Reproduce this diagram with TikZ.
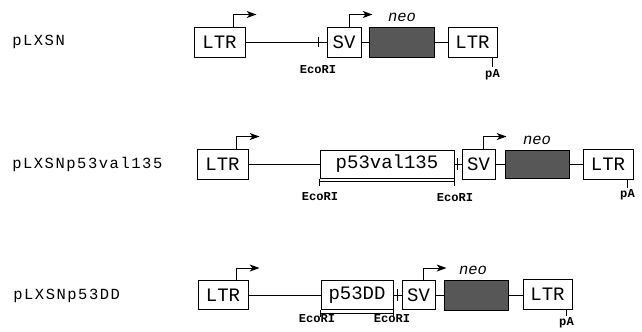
\documentclass[tikz,border=0pt]{standalone}
\usepackage{fontspec}
\usetikzlibrary{positioning, arrows.meta}
\newfontfamily\plotfont{Liberation Mono}
\def\pxu{0.025cm}
\tikzset{
  seg/.style={draw, line width=0.7pt, inner sep=0pt, minimum height=30*\pxu,
    font=\plotfont\fontsize{13.5}{14}\selectfont},
  neobox/.style={seg, fill=black!66},
  link/.style={line width=0.7pt},
  promoter/.style={line width=0.7pt, -{Stealth[length=7pt, width=5pt, inset=2pt]}},
  construct/.style={anchor=west, inner sep=0pt,
    font=\plotfont\fontsize{11}{12}\selectfont\addfontfeature{LetterSpace=10}},
  genelbl/.style={font=\plotfont\itshape\fontsize{11}{12}\selectfont},
  sitelbl/.style={inner sep=1pt, font=\plotfont\bfseries\fontsize{8.6}{9}\selectfont}
}
\newcommand{\prom}[1]{\draw[promoter] ([xshift=-12*\pxu]#1.north east) -- ++(0,-12) -- ++(23,0);}

\begin{document}
\begin{tikzpicture}[x=0.025cm, y=-0.025cm]
  \useasboundingbox (0,0) rectangle (642,331);

  % pLXSN
  \node[construct] (nmA) at (12,42) {pLXSN};
  \node[seg, minimum width=51*\pxu] (ltrA) at (219.5,42) {LTR};
  \node[seg, minimum width=34*\pxu] (svA) at (344,42) {SV};
  \node[neobox, minimum width=65*\pxu] (neoA) at (401.5,42) {};
  \node[seg, minimum width=49*\pxu] (ltrB) at (472.5,42) {LTR};
  \draw[link] (ltrA) -- (svA) (svA) -- (neoA) (neoA) -- (ltrB);
  \prom{ltrA} \prom{svA}
  \node[genelbl] at (402,17) {neo};
  \draw[link] ([xshift=-8*\pxu]svA.west) ++(0,-5) -- ++(0,10);
  \node[sitelbl] at (318,70) {EcoRI};
  \draw[link] ([xshift=-5*\pxu]ltrB.south east) -- ++(0,10) coordinate (paA);
  \node[sitelbl, below=0pt of paA] {pA};

  % pLXSNp53val135
  \node[construct] (nmB) at (12,164) {pLXSNp53val135};
  \node[seg, minimum width=51*\pxu] (ltrC) at (222.5,164) {LTR};
  \node[seg, minimum width=134*\pxu, minimum height=28*\pxu] (p53A) at (387,164) {p53val135};
  \node[seg, minimum width=33*\pxu] (svB) at (478.5,164) {SV};
  \node[neobox, minimum width=64*\pxu, minimum height=28*\pxu] (neoB) at (537,164) {};
  \node[seg, minimum width=50*\pxu] (ltrD) at (608,164) {LTR};
  \draw[link] (ltrC) -- (p53A) (p53A) -- (svB) (svB) -- (neoB) (neoB) -- (ltrD);
  \prom{ltrC} \prom{svB}
  \node[genelbl] at (537,140) {neo};
  \draw[link] ([xshift=-4*\pxu]svB.west) ++(0,-6) -- ++(0,12);
  \draw[link] (p53A.south west) -- ++(0,7);
  \draw[link] (p53A.south east) -- ++(0,7);
  \draw[link] ([yshift=-3*\pxu]p53A.south west) -- ([yshift=-3*\pxu]p53A.south east);
  \node[sitelbl] at (320,197) {EcoRI};
  \node[sitelbl] at (455,198) {EcoRI};
  \draw[link] ([xshift=-6*\pxu]ltrD.south east) -- ++(0,8) coordinate (paB);
  \node[sitelbl, below=0pt of paB] {pA};

  % pLXSNp53DD
  \node[construct] (nmC) at (13,296) {pLXSNp53DD};
  \node[seg, minimum width=50*\pxu, minimum height=29*\pxu] (ltrE) at (223,295) {LTR};
  \node[seg, minimum width=72*\pxu, minimum height=29*\pxu] (p53B) at (357,295) {p53DD};
  \node[seg, minimum width=33*\pxu, minimum height=29*\pxu] (svC) at (418.5,295) {SV};
  \node[neobox, minimum width=64*\pxu] (neoC) at (476,295) {};
  \node[seg, minimum width=49*\pxu] (ltrF) at (547.5,294) {LTR};
  \draw[link] (ltrE) -- (p53B) (p53B) -- (svC) (svC) -- (neoC) (neoC) -- (neoC -| ltrF.west);
  \prom{ltrE} \prom{svC}
  \node[genelbl] at (473,270) {neo};
  \draw[link] ([xshift=-4*\pxu]svC.west) ++(0,-6) -- ++(0,12);
  \draw[link] (p53B.south west) -- ++(0,7);
  \draw[link] (p53B.south east) -- ++(0,7);
  \draw[link] ([yshift=-3*\pxu]p53B.south west) -- ([yshift=-3*\pxu]p53B.south east);
  \node[sitelbl] at (317,319) {EcoRI};
  \node[sitelbl] at (392,319) {EcoRI};
  \draw[link] ([xshift=-6*\pxu]ltrF.south east) -- ++(0,6) coordinate (paC);
  \node[sitelbl, below=0pt of paC] {pA};
\end{tikzpicture}
\end{document}
